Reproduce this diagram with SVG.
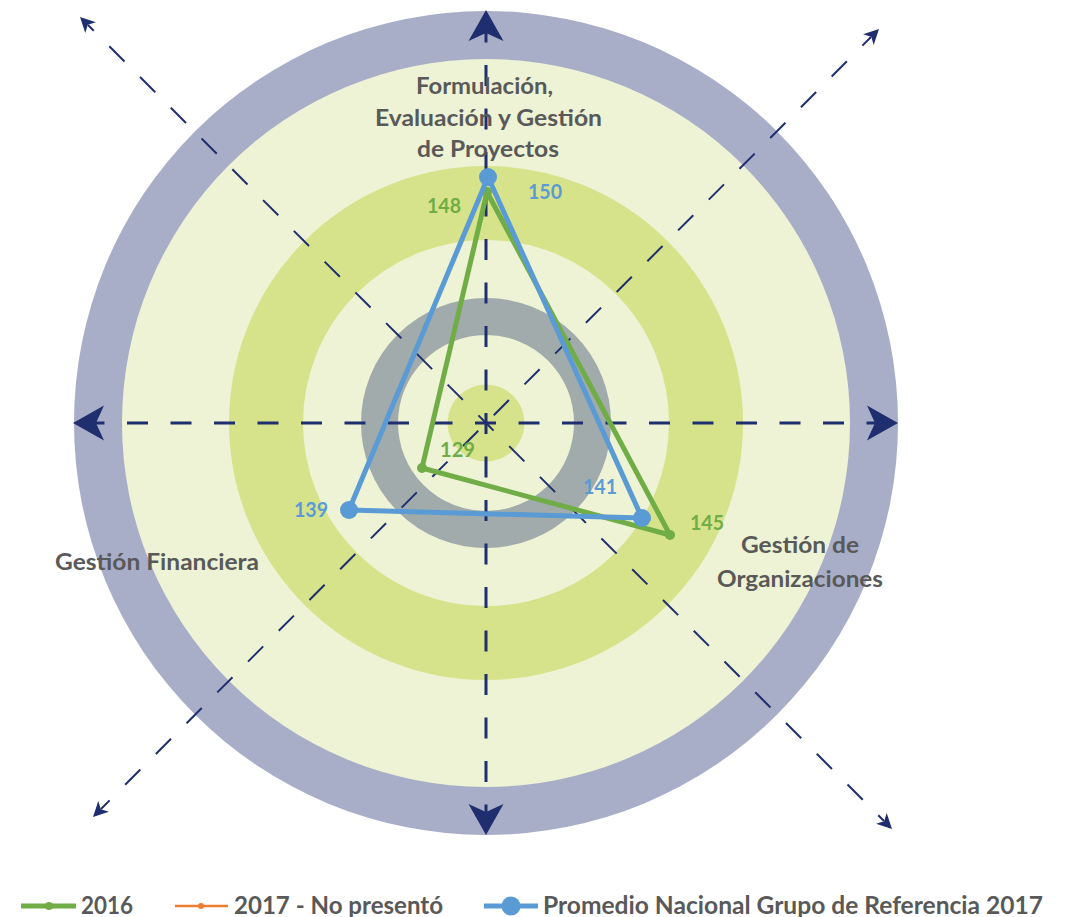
<svg xmlns="http://www.w3.org/2000/svg" width="1074" height="917" viewBox="0 0 1074 917">
<style>
.lbl{font-family:Lato,"Open Sans","Liberation Sans",sans-serif;font-weight:bold;fill:#595959;font-size:23.5px}
.num{font-family:Lato,"Open Sans","Liberation Sans",sans-serif;font-weight:bold;font-size:21px}
.leg{font-family:Lato,"Open Sans","Liberation Sans",sans-serif;font-weight:bold;fill:#595959;font-size:25px}
.axis{stroke:#1f2e6e;stroke-width:3;fill:none;stroke-dasharray:21 22.5}
.diag{stroke:#1f2e6e;stroke-width:2;fill:none;stroke-dasharray:21.5 22}
.g{fill:#70ad47}
.b{fill:#5b9bd5}
</style>
<defs>
<path id="bigArrow" d="M0,0 L-31,-17.5 L-23,0 L-31,17.5 Z" fill="#1f2e6e"/>
<path id="smallArrow" d="M0,0 L-15,-7.5 L-11,0 L-15,7.5 Z" fill="#1f2e6e"/>
</defs>
<rect width="1074" height="917" fill="#ffffff"/>
<g id="rings">
<circle cx="486" cy="423" r="412" fill="#a9aec8"/>
<circle cx="486" cy="423" r="364" fill="#edf3d4"/>
<circle cx="486" cy="423" r="220" fill="none" stroke="#d7e38b" stroke-width="74"/>
<circle cx="486" cy="423" r="106.5" fill="none" stroke="#a1abab" stroke-width="37"/>
<circle cx="486" cy="423" r="38.5" fill="#d7e38b"/>
</g>
<g id="axes">
<line class="axis" x1="83.5" y1="423" x2="887.5" y2="423"/>
<line class="axis" x1="486" y1="21.5" x2="486" y2="825.5"/>
<line class="diag" x1="486" y1="423" x2="88" y2="25" stroke-dashoffset="10.75"/>
<line class="diag" x1="486" y1="423" x2="884" y2="821" stroke-dashoffset="10.75"/>
<line class="diag" x1="486" y1="423" x2="871" y2="37" stroke-dashoffset="32.5"/>
<line class="diag" x1="486" y1="423" x2="101" y2="809" stroke-dashoffset="32.5"/>
<use href="#bigArrow" transform="translate(898,423)"/>
<use href="#bigArrow" transform="translate(73,423) rotate(180)"/>
<use href="#bigArrow" transform="translate(486,10) rotate(-90)"/>
<use href="#bigArrow" transform="translate(486,835) rotate(90)"/>
<use href="#smallArrow" transform="translate(80,17) rotate(-135)"/>
<use href="#smallArrow" transform="translate(892,829) rotate(45)"/>
<use href="#smallArrow" transform="translate(879,29) rotate(-45)"/>
<use href="#smallArrow" transform="translate(93,817) rotate(135)"/>
</g>
<g id="series-2016">
<polygon points="487,192 670,535 422,468" fill="none" stroke="#70ad47" stroke-width="5" stroke-linejoin="round"/>
<circle class="g" cx="487" cy="192" r="5"/>
<circle class="g" cx="670" cy="535" r="5"/>
<circle class="g" cx="422" cy="468" r="5"/>
</g>
<g id="series-promedio">
<polygon points="488,177 642,518 349,510" fill="none" stroke="#5b9bd5" stroke-width="5" stroke-linejoin="round"/>
<circle class="b" cx="488" cy="177" r="9"/>
<circle class="b" cx="642" cy="518" r="9"/>
<circle class="b" cx="349" cy="510" r="9"/>
</g>
<g id="axis-labels">
<text class="lbl" x="484.5" y="94" text-anchor="middle" textLength="137" lengthAdjust="spacingAndGlyphs">Formulación,</text>
<text class="lbl" x="488.5" y="126" text-anchor="middle" textLength="227" lengthAdjust="spacingAndGlyphs">Evaluación y Gestión</text>
<text class="lbl" x="488" y="157" text-anchor="middle" textLength="142" lengthAdjust="spacingAndGlyphs">de Proyectos</text>
<text class="lbl" x="157" y="570" text-anchor="middle" textLength="204" lengthAdjust="spacingAndGlyphs">Gestión Financiera</text>
<text class="lbl" x="800" y="553" text-anchor="middle" textLength="118" lengthAdjust="spacingAndGlyphs">Gestión de</text>
<text class="lbl" x="800" y="587" text-anchor="middle" textLength="166" lengthAdjust="spacingAndGlyphs">Organizaciones</text>
</g>
<g id="value-labels">
<text class="num g" x="444" y="213" text-anchor="middle" textLength="34" lengthAdjust="spacingAndGlyphs">148</text>
<text class="num b" x="545" y="199" text-anchor="middle" textLength="34" lengthAdjust="spacingAndGlyphs">150</text>
<text class="num g" x="457.5" y="457" text-anchor="middle" textLength="35" lengthAdjust="spacingAndGlyphs">129</text>
<text class="num b" x="600" y="494" text-anchor="middle" textLength="34" lengthAdjust="spacingAndGlyphs">141</text>
<text class="num g" x="707" y="530" text-anchor="middle" textLength="34" lengthAdjust="spacingAndGlyphs">145</text>
<text class="num b" x="311" y="517" text-anchor="middle" textLength="34" lengthAdjust="spacingAndGlyphs">139</text>
</g>
<g id="legend">
<line x1="21" y1="906" x2="76" y2="906" stroke="#70ad47" stroke-width="5"/>
<circle class="g" cx="49" cy="906" r="4"/>
<text class="leg" x="81" y="914" textLength="52" lengthAdjust="spacingAndGlyphs">2016</text>
<line x1="175" y1="906" x2="228" y2="906" stroke="#ed7d31" stroke-width="2.5"/>
<circle cx="201" cy="906" r="3" fill="#ed7d31"/>
<text class="leg" x="234" y="914" textLength="209" lengthAdjust="spacingAndGlyphs">2017 - No presentó</text>
<line x1="484" y1="906" x2="538" y2="906" stroke="#5b9bd5" stroke-width="5"/>
<circle class="b" cx="511" cy="906" r="9.5"/>
<text class="leg" x="543" y="914" textLength="500" lengthAdjust="spacingAndGlyphs">Promedio Nacional Grupo de Referencia 2017</text>
</g>
</svg>
